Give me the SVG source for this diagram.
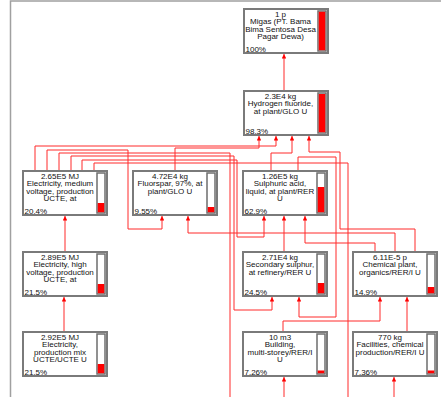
<svg xmlns="http://www.w3.org/2000/svg" width="441" height="397" viewBox="0 0 441 397">
<defs>
<style>
.box{fill:#fff;stroke:#7a7a7a;stroke-width:2}
.bar{fill:#fff;stroke:#6e6e6e;stroke-width:1.5}
.rf{fill:#f00}
.t{font-family:"Liberation Sans",Arial,sans-serif;font-size:8px;fill:#111;text-anchor:middle}
.p{font-family:"Liberation Sans",Arial,sans-serif;font-size:8px;fill:#111;text-anchor:start}
.c{fill:none;stroke:#ff2a2a;stroke-width:1;marker-end:url(#ah)}
.c2{fill:none;stroke:#ff2a2a;stroke-width:1}
.frame{stroke:#a0a0a0;stroke-width:1.5;fill:none}
</style>
<marker id="ah" viewBox="0 0 6 6" refX="6" refY="3" markerWidth="4.5" markerHeight="4.5" markerUnits="userSpaceOnUse" orient="auto">
<path d="M0,0 L6,3 L0,6 z" fill="#f00"/>
</marker>
</defs>
<rect width="441" height="397" fill="#fff"/>
<path class="frame" d="M10.5,397 V1 H441"/>

<g id="connectors">
<path class="c" d="M284,91 V54"/>
<path class="c" d="M35,171 V146 H276 V136"/>
<path class="c" d="M175,171 V148 H259 V136"/>
<path class="c" d="M271,171 V153 H292 V136"/>
<path class="c" d="M415,252 V229 H340 V152 H309 V136"/>
<path class="c" d="M47,171 V150 H128 V229 H162 V216"/>
<path class="c2" d="M59,171 V153 H230 V397"/>
<path class="c" d="M71,171 V156 H234 V310 H272 V297"/>
<path class="c" d="M82,171 V160 H237 V237 H264 V216"/>
<path class="c2" d="M94,171 V163 H348 V397"/>
<path class="c" d="M298,171 V157 H336 V317 H299 V297"/>
<path class="c" d="M375,252 V243 H305 V216"/>
<path class="c" d="M395,252 V233 H188 V216"/>
<path class="c" d="M284,252 V216"/>
<path class="c" d="M283,332 V321 H380 V297"/>
<path class="c" d="M407,332 V297"/>
<path class="c" d="M284,397 V377"/>
<path class="c" d="M394,397 V377"/>
<path class="c" d="M65,252 V216"/>
<path class="c" d="M64,332 V297"/>
</g>

<g id="n-migas" transform="translate(244,9)">
<rect class="box" x="0" y="0" width="84" height="44"/>
<rect class="bar" x="74" y="2" width="8" height="40"/>
<rect class="rf" x="74.75" y="2.75" width="6.5" height="38.5"/>
<text class="t" x="36.5" y="7.5">1 p</text>
<text class="t" x="36.5" y="15.1">Migas (PT. Bama</text>
<text class="t" x="36.5" y="22.7">Bima Sentosa Desa</text>
<text class="t" x="36.5" y="30.3">Pagar Dewa)</text>
<text class="p" x="1.5" y="42.5">100%</text>
</g>

<g id="n-hf" transform="translate(244,91)">
<rect class="box" x="0" y="0" width="84" height="44"/>
<rect class="bar" x="74" y="2" width="8" height="40"/>
<rect class="rf" x="74.75" y="3" width="6.5" height="38.25"/>
<text class="t" x="36.5" y="7.5">2.3E4 kg</text>
<text class="t" x="36.5" y="15.1">Hydrogen fluoride,</text>
<text class="t" x="36.5" y="22.7">at plant/GLO U</text>
<text class="p" x="1.5" y="42.5">98.3%</text>
</g>

<g id="n-elec-medium" transform="translate(23,171)">
<rect class="box" x="0" y="0" width="84" height="44"/>
<rect class="bar" x="74" y="2" width="8" height="40"/>
<rect class="rf" x="74.75" y="32" width="6.5" height="9.25"/>
<text class="t" x="37" y="7.5">2.65E5 MJ</text>
<text class="t" x="37" y="15.1">Electricity, medium</text>
<text class="t" x="37" y="22.7">voltage, production</text>
<text class="t" x="37" y="30.3">UCTE, at</text>
<text class="p" x="1.5" y="42.5">20.4%</text>
</g>

<g id="n-fluorspar" transform="translate(133,171)">
<rect class="box" x="0" y="0" width="84" height="44"/>
<rect class="bar" x="74" y="2" width="8" height="40"/>
<rect class="rf" x="74.75" y="36" width="6.5" height="5.25"/>
<text class="t" x="37" y="7.5">4.72E4 kg</text>
<text class="t" x="37" y="15.1">Fluorspar, 97%, at</text>
<text class="t" x="37" y="22.7">plant/GLO U</text>
<text class="p" x="1.5" y="42.5">9.55%</text>
</g>

<g id="n-sulphuric" transform="translate(243,171)">
<rect class="box" x="0" y="0" width="84" height="44"/>
<rect class="bar" x="74" y="2" width="8" height="40"/>
<rect class="rf" x="74.75" y="16" width="6.5" height="25.25"/>
<text class="t" x="37" y="7.5">1.26E5 kg</text>
<text class="t" x="37" y="15.1">Sulphuric acid,</text>
<text class="t" x="37" y="22.7">liquid, at plant/RER</text>
<text class="t" x="37" y="30.3">U</text>
<text class="p" x="1.5" y="42.5">62.9%</text>
</g>

<g id="n-elec-high" transform="translate(23,252)">
<rect class="box" x="0" y="0" width="84" height="44"/>
<rect class="bar" x="74" y="2" width="8" height="40"/>
<rect class="rf" x="74.75" y="32" width="6.5" height="9.25"/>
<text class="t" x="37" y="7.5">2.89E5 MJ</text>
<text class="t" x="37" y="15.1">Electricity, high</text>
<text class="t" x="37" y="22.7">voltage, production</text>
<text class="t" x="37" y="30.3">UCTE, at</text>
<text class="p" x="1.5" y="42.5">21.5%</text>
</g>

<g id="n-sec-sulphur" transform="translate(243,252)">
<rect class="box" x="0" y="0" width="84" height="44"/>
<rect class="bar" x="74" y="2" width="8" height="40"/>
<rect class="rf" x="74.75" y="31" width="6.5" height="10.25"/>
<text class="t" x="37" y="7.5">2.71E4 kg</text>
<text class="t" x="37" y="15.1">Secondary sulphur,</text>
<text class="t" x="37" y="22.7">at refinery/RER U</text>
<text class="p" x="1.5" y="42.5">24.5%</text>
</g>

<g id="n-chem-plant" transform="translate(353,252)">
<rect class="box" x="0" y="0" width="84" height="44"/>
<rect class="bar" x="74" y="2" width="8" height="40"/>
<rect class="rf" x="74.75" y="35" width="6.5" height="6.25"/>
<text class="t" x="37" y="7.5">6.11E-5 p</text>
<text class="t" x="37" y="15.1">Chemical plant,</text>
<text class="t" x="37" y="22.7">organics/RER/I U</text>
<text class="p" x="1.5" y="42.5">14.9%</text>
</g>

<g id="n-elec-mix" transform="translate(23,332)">
<rect class="box" x="0" y="0" width="84" height="44"/>
<rect class="bar" x="74" y="2" width="8" height="40"/>
<rect class="rf" x="74.75" y="32" width="6.5" height="9.25"/>
<text class="t" x="37" y="7.5">2.92E5 MJ</text>
<text class="t" x="37" y="15.1">Electricity,</text>
<text class="t" x="37" y="22.7">production mix</text>
<text class="t" x="37" y="30.3">UCTE/UCTE U</text>
<text class="p" x="1.5" y="42.5">21.5%</text>
</g>

<g id="n-building" transform="translate(243,332)">
<rect class="box" x="0" y="0" width="84" height="44"/>
<rect class="bar" x="74" y="2" width="8" height="40"/>
<rect class="rf" x="74.75" y="38.5" width="6.5" height="2.75"/>
<text class="t" x="37" y="7.5">10 m3</text>
<text class="t" x="37" y="15.1">Building,</text>
<text class="t" x="37" y="22.7">multi-storey/RER/I</text>
<text class="t" x="37" y="30.3">U</text>
<text class="p" x="1.5" y="42.5">7.26%</text>
</g>

<g id="n-facilities" transform="translate(353,332)">
<rect class="box" x="0" y="0" width="84" height="44"/>
<rect class="bar" x="74" y="2" width="8" height="40"/>
<rect class="rf" x="74.75" y="38.5" width="6.5" height="2.75"/>
<text class="t" x="37" y="7.5">770 kg</text>
<text class="t" x="37" y="15.1">Facilities, chemical</text>
<text class="t" x="37" y="22.7">production/RER/I U</text>
<text class="p" x="1.5" y="42.5">7.36%</text>
</g>
</svg>
